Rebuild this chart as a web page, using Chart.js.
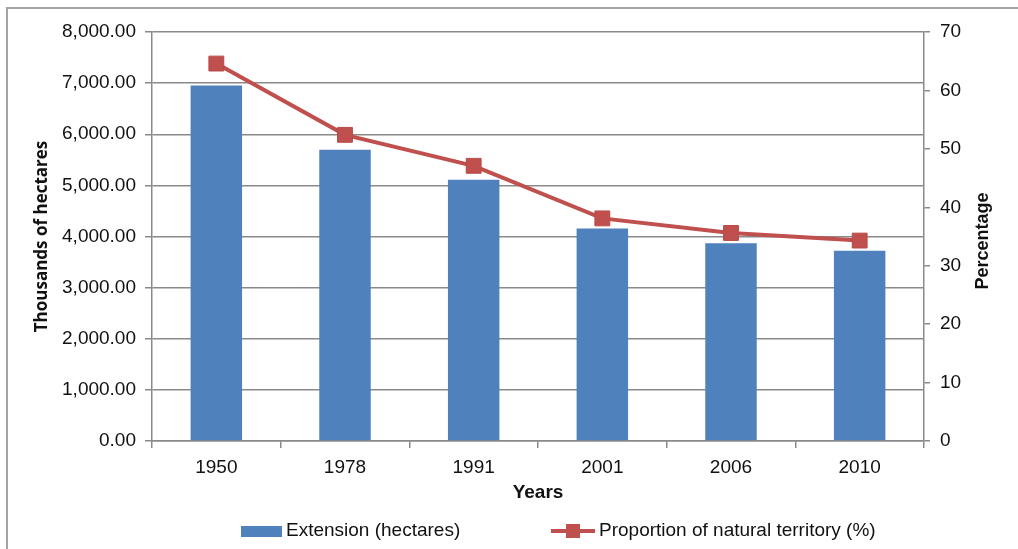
<!DOCTYPE html>
<html>
<head>
<meta charset="utf-8">
<script src="https://cdn.jsdelivr.net/npm/chart.js@4"></script>
<style>
  html, body { margin: 0; padding: 0; background: #fff; }
  #wrap { position: relative; width: 1018px; height: 549px; }
</style>
</head>
<body>
<div id="wrap"><canvas id="natChart" width="1018" height="549"></canvas></div>
<script>
// data
const years = ['1950', '1978', '1991', '2001', '2006', '2010'];
const extension = [6955, 5695, 5110, 4155, 3870, 3720];
const proportion = [64.6, 52.4, 47.1, 38.1, 35.6, 34.3];

const BLUE = '#4F81BD';
const RED = '#C0504D';
const GRID = '#8a8a8a';
const NARROW = "'Liberation Sans Narrow', 'Arial Narrow', 'Liberation Sans', sans-serif";

// grey frame on the top and left edge
const framePlugin = {
  id: 'frame',
  afterDraw(chart) {
    const ctx = chart.ctx;
    ctx.save();
    ctx.strokeStyle = '#a3a3a3';
    ctx.lineWidth = 2;
    ctx.beginPath();
    ctx.moveTo(7, 549);
    ctx.lineTo(7, 8);
    ctx.lineTo(1018, 8);
    ctx.stroke();
    ctx.restore();
  }
};

// right axis title, read bottom to top like the left one
const rightTitlePlugin = {
  id: 'rightTitle',
  afterDraw(chart) {
    const ctx = chart.ctx;
    ctx.save();
    ctx.translate(983, 241);
    ctx.rotate(-Math.PI / 2);
    ctx.font = 'bold 18px ' + NARROW;
    ctx.fillStyle = '#111';
    ctx.textAlign = 'center';
    ctx.textBaseline = 'middle';
    ctx.fillText('Percentage', 0, 0);
    ctx.restore();
  }
};

// bottom legend, excel style
const legendPlugin = {
  id: 'bottomLegend',
  afterDraw(chart) {
    const ctx = chart.ctx;
    const ds = chart.data.datasets;
    const bar = ds.find(d => d.type === 'bar');
    const line = ds.find(d => d.type === 'line');
    const y = 531;
    ctx.save();
    ctx.font = '19px ' + NARROW;
    ctx.textBaseline = 'middle';

    ctx.fillStyle = bar.backgroundColor;
    ctx.fillRect(241, 526, 41, 11);
    ctx.fillStyle = '#111';
    ctx.fillText(bar.label, 286, y);

    ctx.strokeStyle = line.borderColor;
    ctx.lineWidth = 4;
    ctx.beginPath();
    ctx.moveTo(551, y);
    ctx.lineTo(595, y);
    ctx.stroke();
    ctx.fillStyle = line.pointBackgroundColor;
    ctx.fillRect(566, y - 7, 14, 14);
    ctx.fillStyle = '#111';
    ctx.fillText(line.label, 599, y);
    ctx.restore();
  }
};

const config = {
  type: 'bar',
  data: {
    labels: years,
    datasets: [{
      type: 'bar',
      label: 'Extension (hectares)',
      data: extension,
      yAxisID: 'y',
      backgroundColor: BLUE,
      borderWidth: 0,
      categoryPercentage: 1,
      barPercentage: 0.4,
      order: 1
    }, {
      type: 'line',
      label: 'Proportion of natural territory (%)',
      data: proportion,
      yAxisID: 'y1',
      borderColor: RED,
      borderWidth: 4,
      backgroundColor: RED,
      pointStyle: 'rect',
      pointRadius: 10.5,
      pointBackgroundColor: RED,
      pointBorderColor: '#b84a47',
      pointBorderWidth: 1,
      tension: 0,
      order: 0
    }]
  },
  options: {
    responsive: false,
    animation: false,
    events: [],
    layout: { padding: { left: 0, right: 0, top: 32, bottom: 0 } },
    plugins: {
      legend: { display: false },
      tooltip: { enabled: false }
    },
    scales: {
      x: {
        offset: true,
        grid: { offset: true, drawOnChartArea: false, drawTicks: true, tickLength: 7, color: GRID, lineWidth: 1.5 },
        border: { display: true, color: GRID, width: 1.5 },
        ticks: { color: '#111', font: { family: NARROW, size: 19 }, padding: 8 },
        title: { display: true, text: 'Years', color: '#111', font: { family: NARROW, size: 19, weight: 'bold' }, padding: { top: 0, bottom: 45 } },
        afterFit(scale) { scale.height = 108; }
      },
      y: {
        position: 'left',
        min: 0,
        max: 8000,
        ticks: {
          stepSize: 1000,
          color: '#111',
          font: { family: NARROW, size: 19 },
          padding: 9,
          callback: v => v.toLocaleString('en-US', { minimumFractionDigits: 2, maximumFractionDigits: 2 })
        },
        grid: { color: GRID, lineWidth: 1.5, tickLength: 7 },
        border: { display: true, color: GRID, width: 1.5 },
        title: { display: true, text: 'Thousands of hectares', color: '#111', font: { family: "'Open Sans', 'Noto Sans', sans-serif", size: 17, weight: 'bold' }, padding: { top: 32, bottom: 0 } },
        afterFit(scale) { scale.width = 152; }
      },
      y1: {
        position: 'right',
        min: 0,
        max: 70,
        ticks: { stepSize: 10, color: '#111', font: { family: NARROW, size: 19 }, padding: 10 },
        grid: { drawOnChartArea: false, color: GRID, lineWidth: 1.5, tickLength: 6 },
        border: { display: true, color: GRID, width: 1.5 },
        afterFit(scale) { scale.width = 94; }
      }
    }
  },
  plugins: [framePlugin, rightTitlePlugin, legendPlugin]
};

const natChart = new Chart(document.getElementById('natChart'), config);
</script>
</body>
</html>
